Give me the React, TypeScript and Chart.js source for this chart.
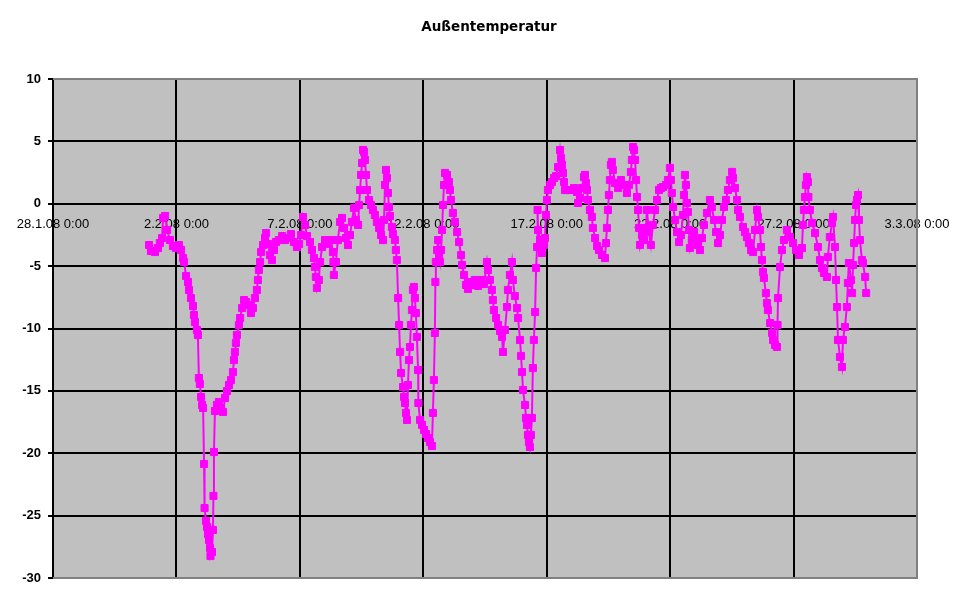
import React, { useEffect, useRef } from "react";
import { Chart, registerables } from "chart.js";

Chart.register(...registerables);

const chartTitle = "Außentemperatur";

const xTickLabels = [
  "28.1.08 0:00",
  "2.2.08 0:00",
  "7.2.08 0:00",
  "12.2.08 0:00",
  "17.2.08 0:00",
  "22.2.08 0:00",
  "27.2.08 0:00",
  "3.3.08 0:00",
];

// time in days since 28.1.08 0:00
const days = [
  3.89, 3.97, 4.13, 4.25, 4.33, 4.42, 4.46, 4.54, 4.62, 4.74,
  4.86, 4.98, 5.10, 5.19, 5.27, 5.31, 5.39, 5.47, 5.51, 5.59,
  5.67, 5.71, 5.75, 5.83, 5.87, 5.91, 5.95, 6.00, 6.04, 6.08,
  6.12, 6.14, 6.20, 6.24, 6.28, 6.32, 6.36, 6.38, 6.44, 6.48,
  6.50, 6.52, 6.56, 6.64, 6.72, 6.81, 6.89, 6.97, 7.05, 7.13,
  7.21, 7.29, 7.33, 7.37, 7.41, 7.45, 7.53, 7.58, 7.66, 7.74,
  7.82, 7.94, 8.02, 8.10, 8.18, 8.26, 8.30, 8.34, 8.39, 8.43,
  8.51, 8.59, 8.63, 8.71, 8.79, 8.87, 8.95, 9.03, 9.15, 9.28,
  9.40, 9.52, 9.64, 9.76, 9.88,
  9.97, 10.05, 10.13, 10.21, 10.29, 10.41, 10.49, 10.57, 10.61, 10.65,
  10.69, 10.77, 10.82, 10.90, 11.02, 11.14, 11.26, 11.34, 11.36, 11.38,
  11.46, 11.54, 11.63, 11.71, 11.79, 11.87, 11.95, 12.03, 12.11, 12.19,
  12.27, 12.36, 12.40, 12.44, 12.48, 12.52, 12.56, 12.60, 12.64, 12.68,
  12.72, 12.80, 12.88, 12.96, 13.04, 13.12, 13.21, 13.29, 13.37, 13.41,
  13.45, 13.49, 13.53, 13.57, 13.61, 13.65, 13.73, 13.77, 13.85, 13.89,
  13.93, 13.98, 14.02, 14.06, 14.10, 14.18, 14.22, 14.26, 14.30, 14.34,
  14.38, 14.42, 14.46, 14.50, 14.54, 14.58, 14.62, 14.66, 14.70, 14.74,
  14.79, 14.80, 14.87, 14.95, 15.03, 15.11, 15.19, 15.27, 15.35, 15.39,
  15.43, 15.47, 15.49, 15.51, 15.56, 15.60, 15.64, 15.68, 15.72, 15.76,
  15.80, 15.84, 15.88, 15.96, 16.04, 16.08, 16.12, 16.20, 16.28, 16.37,
  16.45, 16.53, 16.57, 16.65, 16.73, 16.81, 16.89, 16.97, 17.09, 17.22,
  17.34, 17.46, 17.58, 17.62, 17.70, 17.78, 17.82, 17.86, 17.95, 18.03,
  18.11, 18.19, 18.23, 18.31, 18.39, 18.43, 18.51, 18.59, 18.63, 18.71,
  18.80, 18.84, 18.92, 18.96, 19.00, 19.04, 19.12, 19.16, 19.20, 19.24,
  19.28, 19.32, 19.36, 19.40, 19.44, 19.48, 19.53, 19.57, 19.61, 19.63,
  19.65, 19.73, 19.81, 19.89, 19.93, 19.97, 20.01, 20.05, 20.13, 20.21,
  20.30, 20.38, 20.46, 20.54, 20.58, 20.62, 20.66, 20.70, 20.74, 20.86,
  20.98, 21.11, 21.23, 21.27, 21.35, 21.43, 21.51, 21.55, 21.59, 21.63,
  21.67, 21.75, 21.83, 21.87, 21.96, 22.04,
  22.12, 22.24, 22.36, 22.40, 22.44, 22.48, 22.52, 22.56, 22.60,
  22.64, 22.68, 22.77, 22.89, 23.01, 23.13, 23.25, 23.33, 23.41, 23.45,
  23.50, 23.54, 23.58, 23.62, 23.66, 23.70, 23.74, 23.78, 23.86, 23.94,
  24.02, 24.06, 24.14, 24.22, 24.30, 24.39, 24.47, 24.55, 24.63, 24.71,
  24.83, 24.91, 24.99, 25.03, 25.07, 25.12, 25.20, 25.28, 25.36, 25.44,
  25.52, 25.56, 25.60, 25.64, 25.68, 25.72, 25.76, 25.80, 25.88, 25.97,
  26.05, 26.13, 26.21, 26.29, 26.37, 26.49, 26.61, 26.69, 26.78, 26.86,
  26.94, 27.02, 27.10, 27.18, 27.26, 27.34, 27.42, 27.51, 27.55, 27.63,
  27.71, 27.75, 27.83, 27.95, 28.03, 28.11, 28.19, 28.28, 28.36, 28.44,
  28.52, 28.56, 28.64, 28.68, 28.72, 28.76, 28.80, 28.88, 28.92, 28.96,
  29.05, 29.13, 29.17, 29.25, 29.33, 29.35, 29.37, 29.45, 29.53, 29.61,
  29.73, 29.85, 29.98, 30.10, 30.22, 30.34, 30.38, 30.42, 30.46, 30.50,
  30.54, 30.58, 30.60, 30.66, 30.75, 30.87, 30.99, 31.07, 31.15, 31.23,
  31.35, 31.39, 31.47, 31.56, 31.60, 31.68, 31.72, 31.76, 31.80, 31.88,
  31.96, 32.00, 32.08, 32.16, 32.20, 32.24, 32.33, 32.37, 32.41, 32.45,
  32.49, 32.53, 32.57, 32.61, 32.65, 32.69, 32.77, 32.81, 32.90, 32.94,
];

// Außentemperatur in °C
const temps = [
  -3.31, -3.79, -3.87, -3.55, -3.15, -2.75, -1.14, -0.98, -2.10, -2.91,
  -3.39, -3.55, -3.31, -3.71, -4.35, -4.67, -5.79, -6.27, -6.91, -7.56,
  -8.20, -8.92, -9.48, -10.12, -10.52, -13.97, -14.45, -15.49, -16.13, -16.37,
  -20.86, -24.39, -25.43, -25.91, -26.47, -26.95, -27.60, -28.24, -27.92, -26.15,
  -23.42, -19.90, -16.61, -16.13, -15.89, -16.37, -16.69, -15.57, -15.01, -14.53,
  -14.13, -13.49, -12.53, -11.88, -11.16, -10.52, -9.72, -9.16, -8.36, -7.72,
  -7.88, -8.12, -8.76, -8.36, -7.56, -6.91, -6.11, -5.31, -4.67, -3.87,
  -3.31, -2.75, -2.35, -3.23, -4.11, -4.51, -3.71, -3.07, -2.91, -2.59,
  -2.91, -2.75, -2.43, -3.07, -3.47,
  -3.23, -2.51, -1.06, -1.70, -2.59, -3.07, -3.71, -4.35, -5.07, -5.87,
  -6.75, -6.11, -4.67, -3.47, -2.91, -3.23, -2.91, -3.87, -4.67, -5.71,
  -4.67, -2.91, -1.46, -1.14, -1.94, -2.75, -3.31, -2.51, -1.46, -0.34,
  -1.30, -1.70, -0.10, 1.10, 2.31, 3.27, 4.31, 4.15, 3.51, 2.31,
  1.10, 0.30, -0.10, -0.50, -0.90, -1.46, -1.94, -2.51, -2.91, -1.30,
  1.50, 2.71, 2.06, 0.86, -0.26, -0.98, -1.86, -2.43, -2.91, -3.71,
  -4.51, -7.56, -9.72, -11.88, -13.57, -14.69, -15.49, -15.97, -16.77, -17.33,
  -14.53, -12.53, -11.48, -9.72, -8.52, -6.91, -6.67, -7.56, -8.76, -10.68,
  -13.33, -15.97, -17.33, -17.73, -18.13, -18.46, -18.78, -19.10, -19.42, -16.77,
  -14.13, -10.36, -6.27, -4.67, -3.71, -2.91, -4.11, -4.67, -3.71, -2.10,
  -0.10, 1.50, 2.47, 2.31, 1.74, 1.10, 0.30, -0.74, -1.46, -2.27,
  -3.07, -4.11, -4.91, -5.71, -6.51, -6.83, -6.27, -6.51, -6.11, -6.59,
  -6.11, -6.43, -4.67, -5.31, -6.11, -6.91, -7.72, -8.52, -9.16, -9.72,
  -10.20, -10.68, -11.88, -10.12, -8.28, -6.91, -5.71, -4.67, -6.11, -7.40,
  -8.36, -9.16, -10.92, -12.20, -13.49, -14.93, -16.13, -17.17, -17.73, -18.53,
  -19.10, -19.50, -18.53, -17.17, -13.17, -10.92, -8.68, -5.15, -3.47, -0.50,
  -2.10, -2.91, -3.95, -3.31, -2.75, -0.90, 0.30, 1.10, 1.50, 1.74,
  2.06, 2.22, 2.95, 4.31, 3.67, 3.11, 2.47, 1.74, 1.10, 1.10,
  1.10, 1.26, 0.94, 0.06, 0.46, 1.26, 2.14, 2.31, 1.66, 1.10,
  0.30, -0.50, -1.06, -1.94, -2.75, -3.39,
  -3.71, -4.11, -4.35, -3.15, -1.94, -0.50, 0.70, 1.90, 3.11,
  3.35, 2.71, 1.66, 1.26, 1.90, 1.50, 0.86, 1.50, 2.55, 3.51,
  4.55, 4.31, 3.51, 1.90, 0.54, -0.50, -1.94, -3.31, -2.51, -2.91,
  -1.94, -0.50, -2.27, -3.31, -1.70, -0.50, 0.30, 1.10, 1.26, 1.34,
  1.50, 1.90, 2.87, 1.90, 0.86, -0.26, -1.30, -2.27, -3.07, -2.51,
  -0.90, 0.70, 2.31, 1.50, 0.06, -0.66, -2.10, -3.55, -2.91, -2.27,
  -2.91, -3.31, -3.71, -2.75, -1.70, -0.74, 0.30, -0.26, -1.30, -2.27,
  -3.15, -2.51, -1.30, -0.26, 0.30, 1.10, 1.90, 2.55, 2.06, 1.26,
  0.30, -0.50, -1.06, -1.86, -2.27, -2.67, -3.15, -3.71, -3.87, -2.10,
  -0.50, -1.06, -2.10, -3.47, -4.51, -5.47, -5.95, -7.16, -7.96, -8.52,
  -9.56, -10.36, -10.92, -11.32, -11.48, -9.72, -7.56, -5.07, -3.71, -2.91,
  -2.10, -2.67, -3.15, -3.71, -4.11, -3.55, -1.70, -0.50, 0.54, 1.50,
  2.14, 1.74, 0.54, -0.50, -1.54, -2.35, -3.47, -4.51, -5.15, -5.55,
  -5.87, -4.27, -2.67, -1.54, -1.06, -3.47, -6.11, -8.28, -10.92, -12.28,
  -13.09, -10.92, -9.88, -8.28, -6.35, -4.75, -6.11, -7.16, -4.91, -3.15,
  -1.30, -0.10, 0.30, 0.70, -1.30, -2.91, -4.51, -4.75, -5.87, -7.16,
];

const plotFrame = {
  id: "plotFrame",
  beforeDraw(chart: any) {
    const { ctx, chartArea: a } = chart;
    ctx.save();
    ctx.fillStyle = "#FFFFFF";
    ctx.fillRect(0, 0, chart.width, chart.height);
    ctx.fillStyle = "#C0C0C0";
    ctx.fillRect(a.left, a.top, a.right - a.left, a.bottom - a.top);
    ctx.restore();
  },
  afterDraw(chart: any) {
    const { ctx, chartArea: a } = chart;
    ctx.save();
    ctx.strokeStyle = "#808080";
    ctx.lineWidth = 2;
    ctx.beginPath();
    ctx.moveTo(a.left, a.top);
    ctx.lineTo(a.right, a.top);
    ctx.lineTo(a.right, a.bottom);
    ctx.lineTo(a.left, a.bottom);
    ctx.stroke();
    ctx.restore();
  },
};

export default function App() {
  const ref = useRef<HTMLCanvasElement | null>(null);

  useEffect(() => {
    document.body.style.margin = "0";
    if (!ref.current) return;
    const n = Math.min(days.length, temps.length);
    const points = [];
    for (let i = 0; i < n; i++) points.push({ x: days[i], y: temps[i] });

    const chart = new Chart(ref.current, {
      type: "line",
      data: {
        datasets: [
          {
            label: chartTitle,
            data: points,
            borderColor: "#FF00FF",
            backgroundColor: "#FF00FF",
            borderWidth: 2,
            pointStyle: "rect",
            pointRadius: 5,
            pointBorderWidth: 1,
            pointBackgroundColor: "#FF00FF",
            pointBorderColor: "#FF00FF",
            tension: 0,
            fill: false,
          },
        ],
      },
      options: {
        animation: false,
        responsive: false,
        events: [],
        layout: { padding: { left: 8, right: 0, top: 0, bottom: 26 } },
        plugins: {
          legend: { display: false },
          tooltip: { enabled: false },
          title: {
            display: true,
            text: chartTitle,
            color: "#000000",
            font: { family: "DejaVu Sans", size: 13.5, weight: "bold" },
            padding: { top: 19.5, bottom: 43.3 },
          },
        },
        scales: {
          x: {
            type: "linear",
            min: 0,
            max: 35,
            position: { y: 0 },
            afterFit: (s: any) => {
              s.height = 0;
            },
            ticks: { display: false, stepSize: 5 },
            grid: { color: "#000000", lineWidth: 2, drawTicks: false },
            border: { display: false },
          },
          x2: {
            type: "linear",
            axis: "x",
            min: 0,
            max: 35,
            position: { y: 0 },
            z: 1,
            afterFit: (s: any) => {
              s.height = 0;
            },
            ticks: {
              stepSize: 5,
              autoSkip: false,
              maxRotation: 0,
              minRotation: 0,
              padding: 13,
              color: "#000000",
              font: { family: "Liberation Sans", size: 13 },
              callback: (v: any) => {
                const idx = Math.round(Number(v) / 5);
                return xTickLabels[idx] ?? "";
              },
            },
            grid: { display: false, drawTicks: false },
            border: { display: false },
          },
          y: {
            type: "linear",
            min: -30,
            max: 10,
            afterFit: (s: any) => {
              s.width = 45;
            },
            ticks: {
              stepSize: 5,
              padding: 7,
              color: "#000000",
              font: { family: "Liberation Sans", size: 13, weight: "bold" },
            },
            grid: { color: "#000000", lineWidth: 2, tickLength: 5 },
            border: { color: "#000000", width: 2 },
          },
          ySpace: {
            type: "linear",
            axis: "y",
            position: "right",
            min: -30,
            max: 10,
            afterFit: (s: any) => {
              s.width = 53;
            },
            ticks: { display: false },
            grid: { display: false, drawTicks: false },
            border: { display: false },
          },
        },
      } as any,
      plugins: [plotFrame],
    });
    return () => chart.destroy();
  }, []);

  return (
    <div style={{ width: 970, height: 604 }}>
      <canvas ref={ref} width={970} height={604} style={{ display: "block" }} />
    </div>
  );
}
